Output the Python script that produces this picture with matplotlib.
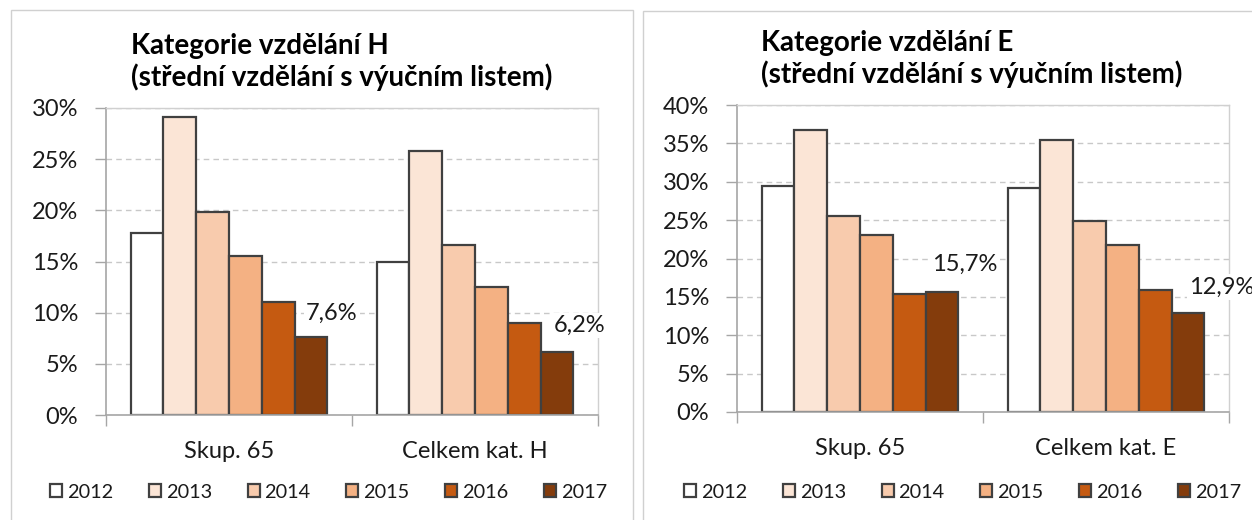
import numpy as np
import matplotlib
matplotlib.use("Agg")
import matplotlib.pyplot as plt
from matplotlib.patches import Rectangle

plt.rcParams['font.family'] = ['Lato', 'DejaVu Sans']

# ---------------- data ----------------
years = ["2012", "2013", "2014", "2015", "2016", "2017"]
year_colors = ["#FFFFFF", "#FBE5D6", "#F8CBAD", "#F4B183", "#C55A11", "#843C0C"]

cats_h = ["Skup. 65", "Celkem kat. H"]
h_skup65 = [17.8, 29.1, 19.8, 15.5, 11.0, 7.6]
h_celkem = [15.0, 25.8, 16.6, 12.5, 9.0, 6.2]

cats_e = ["Skup. 65", "Celkem kat. E"]
e_skup65 = [29.5, 36.8, 25.5, 23.0, 15.4, 15.7]
e_celkem = [29.2, 35.4, 24.9, 21.7, 15.9, 12.9]

title_h = "Kategorie vzdělání H\n(střední vzdělání s výučním listem)"
title_e = "Kategorie vzdělání E\n(střední vzdělání s výučním listem)"

W, H = 1252, 520
fig = plt.figure(figsize=(W / 100, H / 100), dpi=100)
fig.patch.set_facecolor("white")

FS = 17
LEG_FS = 14.3
EDGE = "#404040"
AXC = "#A6A6A6"
GRID = "#C8C8C8"
TXT = "#1A1A1A"


def px_ax(x0, y0, x1, y1):
    # pixel box (from top-left) -> figure fraction
    return [x0 / W, 1 - y1 / H, (x1 - x0) / W, (y1 - y0) / H]


def draw_panel(box, cats, v0, v1, ymax, title, title_xy, label_offsets, leg_xy):
    ax = fig.add_axes(box)
    n = len(years)
    width = 0.8 / n
    x = np.arange(len(cats))
    for i, yr in enumerate(years):
        ax.bar(x - 0.4 + width * (i + 0.5), [v0[i], v1[i]], width,
               color=year_colors[i], edgecolor=EDGE, linewidth=1.6,
               label=yr, zorder=2)

    ax.set_xlim(-0.5, 1.5)
    ax.set_ylim(0, ymax)
    ticks = np.arange(0, ymax + 0.1, 5)
    ax.set_yticks(ticks)
    ax.set_yticklabels([f"{int(t)}%" for t in ticks])
    ax.set_axisbelow(True)
    ax.yaxis.grid(True, color=GRID, linestyle=(0, (4, 3)), linewidth=1)

    # category boundary ticks + centered labels
    ax.set_xticks([-0.5, 0.5, 1.5])
    ax.set_xticklabels([])
    ax.set_xticks(x, minor=True)
    ax.set_xticklabels(cats, minor=True)
    ax.tick_params(axis="x", which="major", length=8, color=AXC, width=1)
    ax.tick_params(axis="x", which="minor", length=0, pad=19, labelsize=FS,
                   labelcolor=TXT)
    ax.tick_params(axis="y", length=8, color=AXC, width=1, labelsize=FS,
                   labelcolor=TXT, pad=12)

    for s in ["top", "right"]:
        ax.spines[s].set_color("#D0D0D0")
        ax.spines[s].set_linewidth(1)
    for s in ["left", "bottom"]:
        ax.spines[s].set_color(AXC)
        ax.spines[s].set_linewidth(1.2)

    # data labels on 2017 bars
    for ci, vals in enumerate([v0, v1]):
        v = vals[-1]
        xc = ci - 0.4 + width * (n - 0.5)
        dx, dy = label_offsets[ci]
        ax.annotate(f"{v:.1f}%".replace(".", ","), xy=(xc, v),
                    xytext=(dx, dy), textcoords="offset pixels",
                    ha="center", va="center", fontsize=FS, color=TXT,
                    bbox=dict(boxstyle="square,pad=0.1", fc="white", ec="none"),
                    zorder=5, annotation_clip=False, clip_on=False)

    fig.text(title_xy[0] / W, 1 - title_xy[1] / H, title, fontsize=20,
             fontweight="bold", color="#000000", ha="left", va="center",
             linespacing=1.2)

    ax.legend(loc="center left", bbox_to_anchor=(leg_xy[0] / W, 1 - leg_xy[1] / H),
              bbox_transform=fig.transFigure, ncol=6, frameon=False,
              fontsize=LEG_FS, handlelength=0.6, handleheight=0.6,
              handletextpad=0.25, columnspacing=1.8, borderpad=0,
              borderaxespad=0, labelcolor=TXT)
    return ax


# panel frames
fig.add_artist(Rectangle((10.5 / W, -0.1), (633 - 10.5) / W, 1.1 - 10.5 / H,
                         transform=fig.transFigure, fill=False,
                         edgecolor="#D0D0D0", linewidth=1))
fig.add_artist(Rectangle((643 / W, -0.1), (W + 20 - 643) / W, 1.1 - 11 / H,
                         transform=fig.transFigure, fill=False,
                         edgecolor="#D0D0D0", linewidth=1))

draw_panel(px_ax(106, 108, 598, 415), cats_h, h_skup65, h_celkem, 30,
           title_h, (131, 62), [(21, 24), (23, 26)], (50, 492))
draw_panel(px_ax(737, 105, 1229, 412), cats_e, e_skup65, e_celkem, 40,
           title_e, (761, 59), [(23, 27), (34, 26)], (684, 492))

fig.savefig("out.png", dpi=100, facecolor="white")
